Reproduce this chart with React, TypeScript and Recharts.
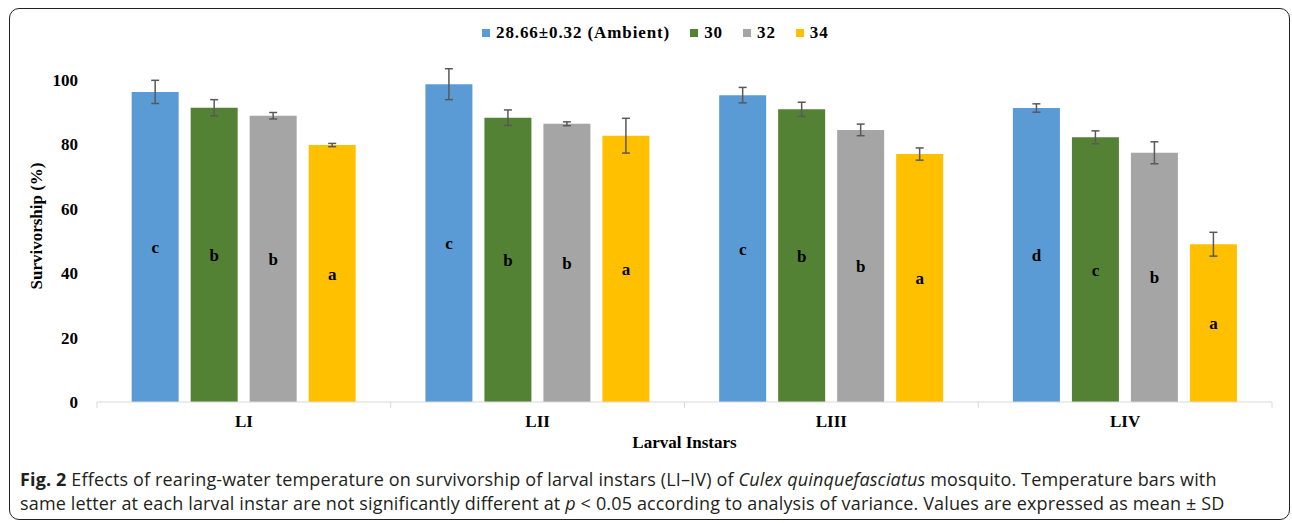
import React from 'react';
import { BarChart, Bar, XAxis, YAxis, ErrorBar, LabelList, Label } from 'recharts';

const instars = ['LI', 'LII', 'LIII', 'LIV'];

const ambient = [96.3, 98.7, 95.3, 91.3];
const t30 = [91.4, 88.3, 90.9, 82.2];
const t32 = [88.9, 86.4, 84.5, 77.4];
const t34 = [79.8, 82.7, 77.0, 49.0];

const ambientSd = [3.6, 4.8, 2.4, 1.3];
const t30Sd = [2.5, 2.4, 2.2, 2.0];
const t32Sd = [1.0, 0.6, 1.8, 3.4];
const t34Sd = [0.5, 5.4, 1.9, 3.7];

const ambientLetters = ['c', 'c', 'c', 'd'];
const t30Letters = ['b', 'b', 'b', 'c'];
const t32Letters = ['b', 'b', 'b', 'b'];
const t34Letters = ['a', 'a', 'a', 'a'];

const yTicks = [0, 20, 40, 60, 80, 100];

const series = [
  { key: 'ambient', name: '28.66\u00b10.32 (Ambient)', color: '#5B9BD5' },
  { key: 't30', name: '30', color: '#548235' },
  { key: 't32', name: '32', color: '#A5A5A5' },
  { key: 't34', name: '34', color: '#FFC000' },
];

const data = instars.map((name, i) => ({
  name,
  ambient: ambient[i],
  t30: t30[i],
  t32: t32[i],
  t34: t34[i],
  ambientSd: ambientSd[i],
  t30Sd: t30Sd[i],
  t32Sd: t32Sd[i],
  t34Sd: t34Sd[i],
  ambientL: ambientLetters[i],
  t30L: t30Letters[i],
  t32L: t32Letters[i],
  t34L: t34Letters[i],
}));

const serif = '"Liberation Serif", "Times New Roman", serif';

// Excel style: tick marks sit between the categories, not under them
const InstarTick = (props: any) => {
  const { x, y, payload, index, visibleTicksCount } = props;
  const half = payload.offset || 0;
  const axisY = y - 12;
  return (
    <g>
      <line x1={x - half} x2={x - half} y1={axisY} y2={axisY + 6} stroke="#D9D9D9" />
      {index === visibleTicksCount - 1 && (
        <line x1={x + half} x2={x + half} y1={axisY} y2={axisY + 6} stroke="#D9D9D9" />
      )}
      <text x={x} y={y + 13} textAnchor="middle" fontFamily={serif} fontWeight="bold" fontSize={17} fill="#000">
        {payload.value}
      </text>
    </g>
  );
};

export default function App() {
  return (
    <div style={{ position: 'absolute', left: 0, top: 0, width: 1292, height: 523, background: '#fff', overflow: 'hidden' }}>
      <div
        style={{
          position: 'absolute',
          left: 9,
          top: 8,
          width: 1279,
          height: 510,
          border: '1.5px solid #222',
          borderRadius: 10,
        }}
      />
      {/* legend */}
      <div
        style={{
          position: 'absolute',
          left: 482,
          top: 23,
          display: 'flex',
          alignItems: 'center',
          fontFamily: serif,
          fontWeight: 'bold',
          fontSize: 17,
          letterSpacing: 0.9,
          color: '#000',
          whiteSpace: 'nowrap',
        }}
      >
        {series.map((s) => (
          <div key={s.key} style={{ display: 'flex', alignItems: 'center', marginRight: 20 }}>
            <span style={{ width: 8, height: 8, background: s.color, display: 'inline-block', marginRight: 6 }} />
            <span>{s.name}</span>
          </div>
        ))}
      </div>
      <div style={{ position: 'absolute', left: 0, top: 0 }}>
        <BarChart
          width={1292}
          height={460}
          data={data}
          margin={{ top: 80, right: 20, left: 0, bottom: 8 }}
          barCategoryGap="11.8%"
          barGap={12}
        >
          <XAxis
            dataKey="name"
            axisLine={{ stroke: '#D9D9D9' }}
            tickLine={false}
            tickSize={6}
            tickMargin={6}
            height={50}
            tick={<InstarTick />}
          >
            <Label
              value="Larval Instars"
              position="insideBottom"
              offset={4}
              style={{ fontFamily: serif, fontWeight: 'bold', fontSize: 17, fill: '#000' }}
            />
          </XAxis>
          <YAxis
            width={97}
            domain={[0, 100]}
            ticks={yTicks}
            axisLine={false}
            tickLine={false}
            tickMargin={13}
            tick={{ fontFamily: serif, fontWeight: 'bold', fontSize: 17, fill: '#000' }}
            allowDataOverflow
          >
            <Label
              content={() => (
                <text
                  x={0}
                  y={0}
                  transform="translate(42, 226) rotate(-90)"
                  textAnchor="middle"
                  fontFamily={serif}
                  fontWeight="bold"
                  fontSize={17}
                  fill="#000"
                >
                  Survivorship (%)
                </text>
              )}
            />
          </YAxis>
          {series.map((s) => (
            <Bar key={s.key} dataKey={s.key} name={s.name} fill={s.color} isAnimationActive={false}>
              <ErrorBar dataKey={`${s.key}Sd`} width={4} strokeWidth={1.5} stroke="#595959" direction="y" />
              <LabelList
                dataKey={`${s.key}L`}
                position="center"
                style={{ fontFamily: serif, fontWeight: 'bold', fontSize: 17, fill: '#000' }}
              />
            </Bar>
          ))}
        </BarChart>
      </div>
      <div
        style={{
          position: 'absolute',
          left: 20,
          top: 467,
          fontFamily: '"Open Sans", sans-serif',
          fontSize: 18,
          letterSpacing: 0.15,
          lineHeight: '24px',
          color: '#231F20',
          whiteSpace: 'nowrap',
        }}
      >
        <div>
          <b>Fig. 2</b> Effects of rearing-water temperature on survivorship of larval instars (LI–IV) of <i>Culex quinquefasciatus</i> mosquito. Temperature bars with
        </div>
        <div>
          same letter at each larval instar are not significantly different at <i>p</i> &lt; 0.05 according to analysis of variance. Values are expressed as mean ± SD
        </div>
      </div>
    </div>
  );
}
